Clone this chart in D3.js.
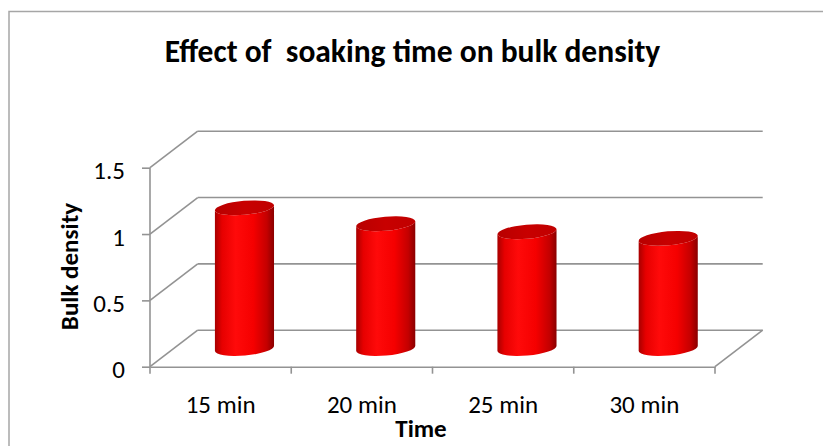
<!DOCTYPE html>
<html>
<head>
<meta charset="utf-8">
<script src="https://cdn.jsdelivr.net/npm/d3@7.9.0/dist/d3.min.js"></script>
<style>
  body { margin: 0; background: #fff; }
  svg { display: block; font-family: Carlito, Lato, "Liberation Sans", sans-serif; }
</style>
</head>
<body>
<svg width="823" height="446"></svg>
<script>
const categories = ["15 min", "20 min", "25 min", "30 min"];
const values = [1.06, 0.94, 0.88, 0.83];
const yTicks = [0, 0.5, 1, 1.5];

const svg = d3.select("svg");
const depth = { dx: 47.7, dy: -36.5 }; // oblique offset of the back wall

// chart frame
svg.append("rect")
  .attr("x", 9).attr("y", 11.5)
  .attr("width", 900).attr("height", 500)
  .attr("fill", "none").attr("stroke", "#a6a6a6").attr("stroke-width", 1.5);

const x = d3.scaleBand().domain(categories).range([150, 715]).padding(0);
const y = d3.scaleLinear().domain([0, 1.5]).range([366.7, 167.7]);
const x0 = x.range()[0], x1 = x.range()[1];
const grid = "#939393";

// back wall gridlines + side wall diagonals
const g = svg.append("g").attr("stroke", grid).attr("stroke-width", 1.6).attr("fill", "none");
yTicks.forEach(t => {
  g.append("line")
    .attr("x1", x0 + depth.dx).attr("y1", y(t) + depth.dy)
    .attr("x2", x1 + depth.dx).attr("y2", y(t) + depth.dy);
  g.append("line")
    .attr("x1", x0).attr("y1", y(t))
    .attr("x2", x0 + depth.dx).attr("y2", y(t) + depth.dy);
});
// floor right edge
g.append("line")
  .attr("x1", x1).attr("y1", y(0))
  .attr("x2", x1 + depth.dx).attr("y2", y(0) + depth.dy);

// y axis
const yAxis = svg.append("g")
  .attr("transform", `translate(${x0},0)`)
  .call(d3.axisLeft(y).tickValues(yTicks).tickSize(8).tickPadding(17).tickFormat(d3.format("")))
  .attr("font-family", null).attr("font-size", 25);
yAxis.selectAll("path, line").attr("stroke", grid).attr("stroke-width", 1.6);
yAxis.select(".domain").attr("d", `M0,${y(1.5)}V${y(0)}`);
yAxis.selectAll("text").attr("fill", "#000").attr("dy", "0.45em");

// x axis: labels at band centres, ticks at band edges
const xAxis = svg.append("g")
  .attr("transform", `translate(0,${y(0)})`)
  .call(d3.axisBottom(x).tickSize(0))
  .attr("font-family", null).attr("font-size", 25);
xAxis.select(".domain").attr("stroke", grid).attr("stroke-width", 1.6);
xAxis.selectAll("text").attr("fill", "#000").attr("dy", null).attr("y", 46);
xAxis.selectAll(".edge")
  .data(d3.range(categories.length + 1))
  .join("line")
  .attr("x1", i => x0 + i * x.bandwidth()).attr("x2", i => x0 + i * x.bandwidth())
  .attr("y1", 0).attr("y2", 7)
  .attr("stroke", grid).attr("stroke-width", 1.6);

// cylinders
const defs = svg.append("defs");
const bodyGrad = defs.append("linearGradient").attr("id", "bodyGrad");
[["0%", "#a80000"], ["12%", "#e60000"], ["35%", "#ff0a0a"], ["65%", "#f50000"], ["88%", "#c40000"], ["100%", "#8a0000"]]
  .forEach(([o, c]) => bodyGrad.append("stop").attr("offset", o).attr("stop-color", c));
const capGrad = defs.append("linearGradient").attr("id", "capGrad");
[["0%", "#b80000"], ["50%", "#c80000"], ["100%", "#c00000"]]
  .forEach(([o, c]) => capGrad.append("stop").attr("offset", o).attr("stop-color", c));

const rx = x.bandwidth() * 0.21, ry = 7, rot = -5;
const tx = rx * Math.cos(rot * Math.PI / 180), ty = rx * Math.sin(rot * Math.PI / 180);

const bars = svg.append("g").selectAll("g")
  .data(categories.map((c, i) => ({ c, v: values[i] })))
  .join("g");

bars.append("path")
  .attr("fill", "url(#bodyGrad)")
  .attr("d", d => {
    const cx = x(d.c) + x.bandwidth() / 2 + depth.dx / 2;
    const yb = y(0) + depth.dy / 2, yt = y(d.v) + depth.dy / 2;
    return `M${cx - tx},${yt - ty}L${cx - tx},${yb - ty}` +
      `A${rx},${ry} ${rot} 0 0 ${cx + tx},${yb + ty}` +
      `L${cx + tx},${yt + ty}` +
      `A${rx},${ry} ${rot} 0 1 ${cx - tx},${yt - ty}Z`;
  });

bars.append("ellipse")
  .attr("fill", "url(#capGrad)")
  .attr("rx", rx).attr("ry", ry)
  .attr("transform", d => {
    const cx = x(d.c) + x.bandwidth() / 2 + depth.dx / 2;
    return `translate(${cx},${y(d.v) + depth.dy / 2}) rotate(${rot})`;
  });

// titles
svg.append("text")
  .attr("x", 412.5).attr("y", 62)
  .attr("text-anchor", "middle")
  .attr("font-size", 31.5).attr("font-weight", "bold")
  .style("white-space", "pre")
  .text("Effect of  soaking time on bulk density");

svg.append("text")
  .attr("x", 421).attr("y", 437)
  .attr("text-anchor", "middle")
  .attr("font-size", 25).attr("font-weight", "bold")
  .text("Time");

svg.append("text")
  .attr("transform", "translate(78,266.5) rotate(-90)")
  .attr("text-anchor", "middle")
  .attr("font-size", 25).attr("font-weight", "bold")
  .text("Bulk density");
</script>
</body>
</html>
